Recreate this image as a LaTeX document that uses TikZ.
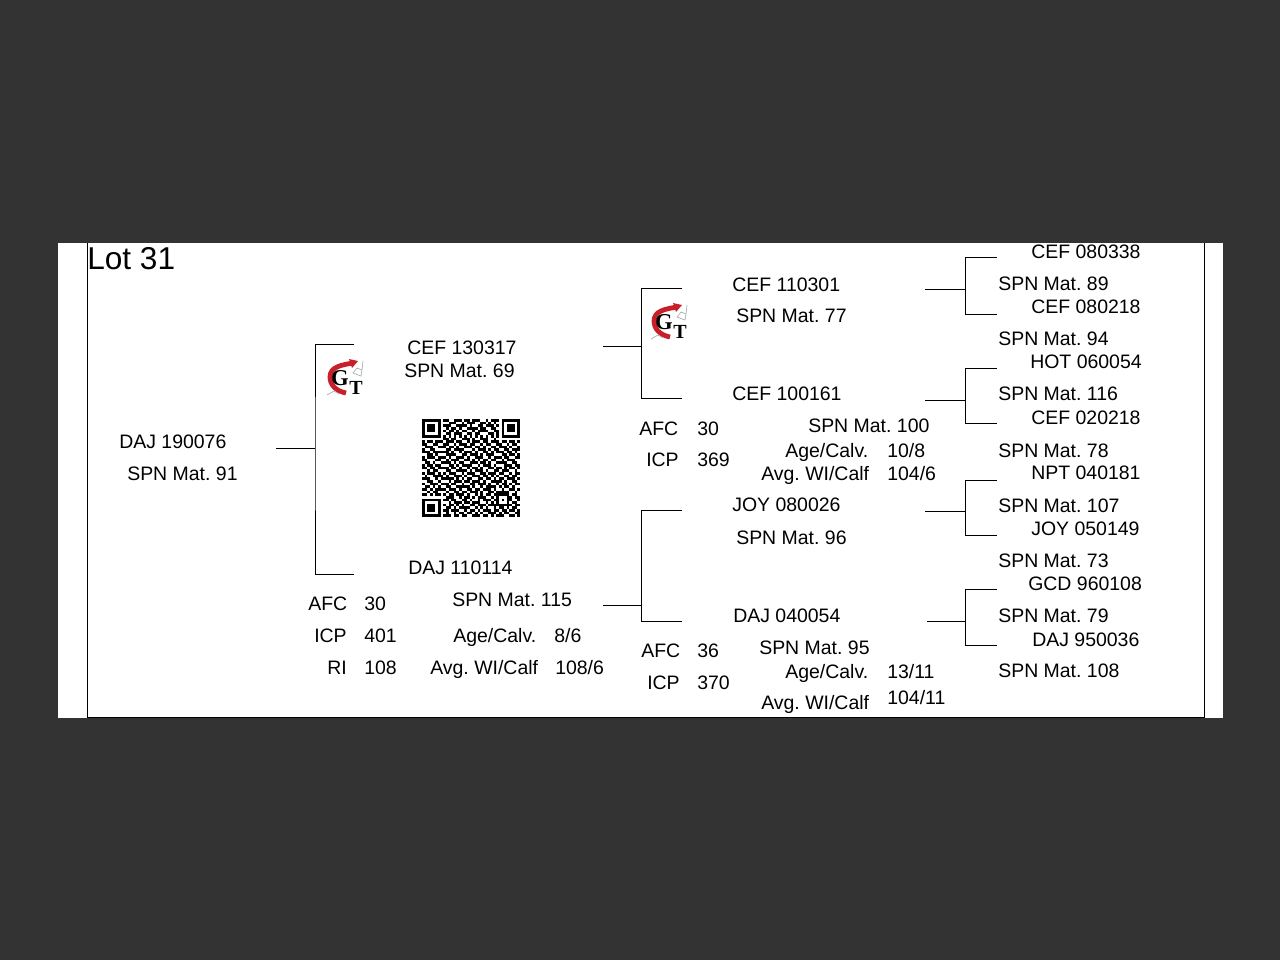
\documentclass[tikz,border=0pt]{standalone}
\usepackage{fontspec}
\setmainfont{Liberation Sans}
\newfontfamily\logofont{Liberation Serif}
\frenchspacing
\usepackage{xcolor}
\definecolor{slatebg}{RGB}{51, 51, 51}
\definecolor{logored}{RGB}{200, 32, 42}
\definecolor{logogray}{RGB}{165, 175, 175}
\newcount\qrcol
\def\qrrow#1{\qrcol=0 \qrscan#1\relax}
\def\qrscan#1{\ifx#1\relax\else
  \if1#1\fill ({422+2.65*\the\qrcol},{419+2.65*\qry}) rectangle +(2.67,2.67);\fi
  \advance\qrcol by 1 \expandafter\qrscan\fi}
\tikzset{
  lbl/.style={anchor=base west, inner sep=0pt, font=\fontsize{14.6}{16}\selectfont},
  tree/.style={line width=0.75pt, black},
  gtlogo/.pic={
    \draw[logored, line width=3.6pt] (8,-16) .. controls (-4,-14) and (-15,-12) .. (-15,-2)
      .. controls (-15,6) and (-9,12) .. (1,14);
    \fill[logored] (4,-20) -- (13,-18) -- (7,-11) -- cycle;
    \draw[logogray, line width=0.5pt] (8,-6) -- (12,-11) -- (17,-9) -- (18,-18)
      (8,-6) -- (16,-3) -- (17,-9) (-18,16) -- (-11,12) -- (-6,15);
    \node[inner sep=0pt, font=\logofont\bfseries\fontsize{17}{17}\selectfont] (-g) at (-5,-1) {G};
    \node[inner sep=0pt, font=\logofont\bfseries\fontsize{15}{15}\selectfont] (-t) at (11,9) {T};
  }
}

\begin{document}
\begin{tikzpicture}[x=0.75pt, y=-0.75pt]
    \useasboundingbox (0,0) rectangle (1280,960);
    \fill[slatebg] (0,0) rectangle (1280,960);
    \fill[white] (58,243) rectangle (1223,718);

    % frame
    \coordinate (frametl) at (87,243);
    \coordinate (framebl) at (87,717);
    \coordinate (frametr) at (1204.5,243);
    \coordinate (framebr) at (1204.5,717);
    \draw[tree] (frametl) -- (framebl) -- (framebr) -- (frametr);

    \node[lbl, font=\fontsize{23.7}{26}\selectfont] (lot) at (87,269) {Lot 31};

    % animal
    \node[lbl] (animal) at (119,448) {DAJ 190076};
    \node[lbl] (animalmat) at (127,480) {SPN Mat. 91};

    % sire and dam
    \node[lbl] (sire) at (407,354) {CEF 130317};
    \node[lbl] (siremat) at (404,377) {SPN Mat. 69};
    \node[lbl] (dam) at (408,574) {DAJ 110114};
    \node[lbl] (dammat) at (452,606) {SPN Mat. 115};
    \node[lbl] (damafc) at (308,610) {AFC};
    \node[lbl] (damafcv) at (364,610) {30};
    \node[lbl] (damicp) at (314,642) {ICP};
    \node[lbl] (damicpv) at (364,642) {401};
    \node[lbl] (damri) at (327,674) {RI};
    \node[lbl] (damriv) at (364,674) {108};
    \node[lbl] (damage) at (453,642) {Age/Calv.};
    \node[lbl] (damagev) at (554,642) {8/6};
    \node[lbl] (damwi) at (430,674) {Avg. WI/Calf};
    \node[lbl] (damwiv) at (555,674) {108/6};

    % grandparents
    \node[lbl] (ss) at (732,291) {CEF 110301};
    \node[lbl] (ssmat) at (736,322) {SPN Mat. 77};
    \node[lbl] (sd) at (732,400) {CEF 100161};
    \node[lbl] (sdafc) at (639,435) {AFC};
    \node[lbl] (sdafcv) at (697,435) {30};
    \node[lbl] (sdicp) at (646,466) {ICP};
    \node[lbl] (sdicpv) at (697,466) {369};
    \node[lbl] (sdmat) at (808,432) {SPN Mat. 100};
    \node[lbl] (sdage) at (785,457) {Age/Calv.};
    \node[lbl] (sdagev) at (887,457) {10/8};
    \node[lbl] (sdwi) at (761,480) {Avg. WI/Calf};
    \node[lbl] (sdwiv) at (887,480) {104/6};
    \node[lbl] (ds) at (732,511) {JOY 080026};
    \node[lbl] (dsmat) at (736,544) {SPN Mat. 96};
    \node[lbl] (dd) at (733,622) {DAJ 040054};
    \node[lbl] (ddmat) at (759,654) {SPN Mat. 95};
    \node[lbl] (ddafc) at (641,657) {AFC};
    \node[lbl] (ddafcv) at (697,657) {36};
    \node[lbl] (ddicp) at (647,689) {ICP};
    \node[lbl] (ddicpv) at (697,689) {370};
    \node[lbl] (ddage) at (785,678) {Age/Calv.};
    \node[lbl] (ddagev) at (887,678) {13/11};
    \node[lbl] (ddwi) at (761,709) {Avg. WI/Calf};
    \node[lbl] (ddwiv) at (887,704) {104/11};

    % great grandparents
    \node[lbl] (sss) at (1031,258) {CEF 080338};
    \node[lbl] (sssmat) at (998,290) {SPN Mat. 89};
    \node[lbl] (ssd) at (1031,313) {CEF 080218};
    \node[lbl] (ssdmat) at (998,345) {SPN Mat. 94};
    \node[lbl] (sds) at (1030,368) {HOT 060054};
    \node[lbl] (sdsmat) at (998,400) {SPN Mat. 116};
    \node[lbl] (sdd) at (1031,424) {CEF 020218};
    \node[lbl] (sddmat) at (998,457) {SPN Mat. 78};
    \node[lbl] (dss) at (1031,479) {NPT 040181};
    \node[lbl] (dssmat) at (998,512) {SPN Mat. 107};
    \node[lbl] (dsd) at (1031,535) {JOY 050149};
    \node[lbl] (dsdmat) at (998,567) {SPN Mat. 73};
    \node[lbl] (dds) at (1028,590) {GCD 960108};
    \node[lbl] (ddsmat) at (998,622) {SPN Mat. 79};
    \node[lbl] (ddd) at (1032,646) {DAJ 950036};
    \node[lbl] (dddmat) at (998,677) {SPN Mat. 108};

    % brackets
    \foreach \br/\sx/\sy/\jx/\ex/\ty/\by in {
        animalbr/276/448/315/354/344/574,
        sirebr/603/346/641/682/288/398,
        dambr/603/605/641/682/510/621,
        ssbr/925/289/965.5/997/257/314,
        sdbr/925/400/965.5/997/368/423,
        dsbr/925/511/965.5/997/480/535,
        ddbr/927/621/965.5/997/589/645} {
      \coordinate (\br stem) at (\sx,\sy);
      \coordinate (\br mid) at (\jx,\sy);
      \coordinate (\br top) at (\ex,\ty);
      \coordinate (\br bot) at (\ex,\by);
      \draw[tree] (\br top) -| (\br mid) |- (\br bot);
      \draw[tree] (\br stem) -- (\br mid);
    }

    % logos
    \pic (logoa) at (345,379) {gtlogo};
    \pic (logob) at (669,323) {gtlogo};

    % qr code
    \foreach \qry/\qrbits in {
        0/1111111 0 110011101101110010111 0 1111111,
        1/1000001 0 001110010111001101010 0 1000001,
        2/1011101 0 111001111010011011101 0 1011101,
        3/1011101 0 010110100111101100110 0 1011101,
        4/1011101 0 101101011001011110011 0 1011101,
        5/1000001 0 011011100110110001101 0 1000001,
        6/1111111 0 101010101010101010101 0 1111111,
        7/0000000 0 110110011101001110010 0 0000000,
        8/10110111 011101100101110110111 01101101,
        9/11001100 110010111011001011001 10010110,
        10/01110011 101101001110110100110 11101001,
        11/10011000 011011110001011101011 00110111,
        12/11101111 110100101110100110101 11011010,
        13/00110100 011110011011101011100 01101101,
        14/10111011 101001110100111001011 10110011,
        15/11000110 010111001101010110110 01011100,
        16/01101001 111010110011101101001 11100110,
        17/10110110 001101011110010111010 00111011,
        18/11011011 110110100101101001101 10101101,
        19/00101100 011001111010111010011 01110010,
        20/10111010 101110010111001101110 11001011,
        21/01001111 010011101001110110101 00110110,
        22/11100101 111101010110011011010 11011101,
        23/00110010 001011101101110100111 10100110,
        24/10011101 110110010011011101001 01101011,
        25/01101010 011001111101001011110 10110100,
        26/11010111 101110100110110111010 01001101,
        27/00101100 010011011011101001101 11110010,
        28/11010110 101101110100101011011 1111 0110,
        29/00000000 011100101101011100101 0001 1011,
        30/1111111 0 110110011010010111011 0101 1001,
        31/1000001 0 001011101101110010101 0001 0110,
        32/1011101 0 101101010011011101111 1111 1011,
        33/1011101 0 011010111100101010010 1101 0110,
        34/1011101 0 110111001011010111011 0110 1101,
        35/1000001 0 010010110110101001110 1011 0011,
        36/1111111 0 111011011001110110101 1100 1101} {
      \expandafter\qrrow\expandafter{\qrbits}
    }
  \end{tikzpicture}
\end{document}
